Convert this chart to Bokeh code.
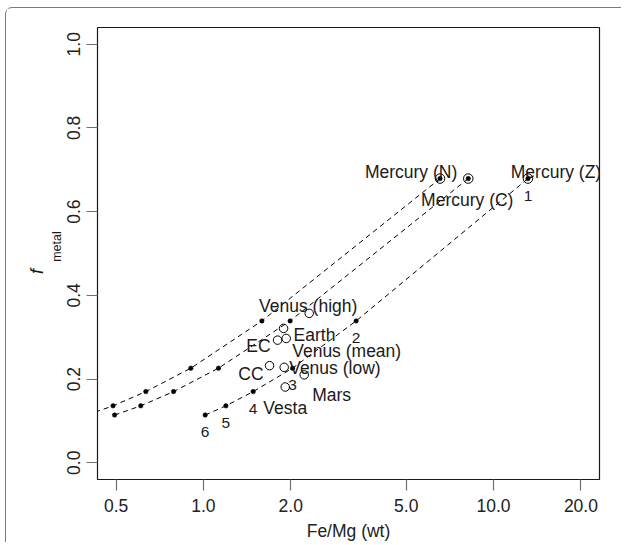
import math
from bokeh.plotting import figure
from bokeh.models import Range1d, FixedTicker, PrintfTickFormatter, LinearAxis
from bokeh.embed import file_html
from bokeh.resources import INLINE
from bokeh.core.properties import value

FONT = "Liberation Sans"

# ---- data ----
f_metal_levels = [0.114, 0.136, 0.170, 0.226, 0.339, 0.679]
curve_top_fe_mg = [0.396, 0.488, 0.633, 0.905, 1.59, 6.54]
curve_mid_fe_mg = [0.494, 0.608, 0.789, 1.127, 1.99, 8.18]
curve_low_fe_mg = [1.014, 1.195, 1.484, 2.029, 3.36, 13.14]
curve_low_numbers = ["6", "5", "4", "3", "2", "1"]
mercury_names = ["Mercury (N)", "Mercury (C)", "Mercury (Z)"]

body_names = ["Venus (high)", "Earth", "EC", "Venus (mean)", "CC",
              "Venus (low)", "Mars", "Vesta"]
body_fe_mg = [2.315, 1.889, 1.801, 1.929, 1.69, 1.898, 2.225, 1.914]
body_f_metal = [0.357, 0.321, 0.293, 0.297, 0.232, 0.228, 0.210, 0.181]

x_ticks = [0.5, 1, 2, 5, 10, 20]
y_ticks = [0.0, 0.2, 0.4, 0.6, 0.8, 1.0]
x_lim = (0.5, 20)
y_lim = (0.0, 1.0)

# ---- label placement styles (screen px: dx right, dy down to baseline) ----
label_style = {
    "Mercury (N)": ("center", -29, -7),
    "Mercury (C)": ("center", -1, 21),
    "Mercury (Z)": ("center", 28, -7),
    "Venus (high)": ("center", -1, -7),
    "Earth": ("left", 10, 7),
    "EC": ("right", -7, 6),
    "Venus (mean)": ("left", 6, 13),
    "CC": ("right", -6, 8),
    "Venus (low)": ("left", 5, 1),
    "Mars": ("left", 8, 20),
    "Vesta": ("center", 0, 21),
}

# R-style 4% axis extension
lx0, lx1 = math.log10(x_lim[0]), math.log10(x_lim[1])
ext = 0.04 * (lx1 - lx0)
x_lo, x_hi = 10 ** (lx0 - ext), 10 ** (lx1 + ext)
ey = 0.04 * (y_lim[1] - y_lim[0])
y_lo, y_hi = y_lim[0] - ey, y_lim[1] + ey

FRAME_H = 455
p = figure(width=616, height=535, x_axis_type="log",
           x_range=Range1d(x_lo, x_hi), y_range=Range1d(y_lo, y_hi),
           output_backend="svg", toolbar_location=None,
           min_border_left=91, min_border_right=23,
           min_border_top=19, min_border_bottom=61,
           styles={"border-top": "1px solid #7a7a7a",
                   "border-left": "1px solid #7a7a7a",
                   "border-top-left-radius": "7px",
                   "margin-left": "5px", "margin-top": "7px"})
p.xgrid.visible = False
p.ygrid.visible = False
p.outline_line_color = "#1a1a1a"
p.outline_line_width = 1.2
p.background_fill_color = "white"
p.border_fill_color = "white"

for ax in (p.xaxis[0], p.yaxis[0]):
    ax.axis_line_color = None
    ax.major_tick_out = 11
    ax.major_tick_in = 0
    ax.minor_tick_out = 0
    ax.minor_tick_in = 0
    ax.major_tick_line_color = "#707070"
    ax.major_tick_line_width = 1.2
    ax.major_label_text_font = FONT
    ax.major_label_text_font_size = "17.5px"
    ax.major_label_text_color = "#222222"
    ax.formatter = PrintfTickFormatter(format="%.1f")

p.xaxis[0].ticker = FixedTicker(ticks=x_ticks, minor_ticks=[])
p.yaxis[0].ticker = FixedTicker(ticks=y_ticks, minor_ticks=[])
p.xaxis[0].major_label_standoff = 8
p.yaxis[0].major_label_standoff = 6
p.yaxis[0].major_label_orientation = "vertical"

p.xaxis[0].axis_label = "Fe/Mg (wt)"
p.xaxis[0].axis_label_text_font = FONT
p.xaxis[0].axis_label_text_font_size = "17.5px"
p.xaxis[0].axis_label_text_font_style = "normal"
p.xaxis[0].axis_label_text_color = "#222222"
p.xaxis[0].axis_label_standoff = 6

# y-axis title: italic "f" with subscript "metal", built from two tickless
# side axes whose single label sits where each part of the title belongs
y_mid = (y_lo + y_hi) / 2
px_to_y = (y_hi - y_lo) / FRAME_H


def title_axis(txt, shift_px, size, style, standoff):
    pos = y_mid + shift_px * px_to_y
    ax = LinearAxis(ticker=FixedTicker(ticks=[pos], minor_ticks=[]),
                    major_label_overrides={pos: txt},
                    axis_line_color=None, major_tick_line_color=None,
                    major_tick_out=0, major_tick_in=0,
                    minor_tick_out=0, minor_tick_in=0,
                    major_label_standoff=standoff,
                    major_label_orientation="vertical",
                    major_label_text_font=FONT,
                    major_label_text_font_size=size,
                    major_label_text_font_style=style,
                    major_label_text_color="#1a1a1a")
    p.add_layout(ax, "left")


title_axis("metal", 7, "12.5px", "normal", 0)
title_axis("f", -18, "18px", "italic", 0)

# dashed model curves with their points
for xs in (curve_top_fe_mg, curve_mid_fe_mg, curve_low_fe_mg):
    p.line(xs, f_metal_levels, line_color="black", line_width=1,
           line_dash="5 4")
    p.scatter(xs, f_metal_levels, size=4.5, marker="circle",
              fill_color="black", line_color="black", line_width=0.5)

# Mercury points (ring around the end of each curve)
mercury_x = [curve_top_fe_mg[-1], curve_mid_fe_mg[-1], curve_low_fe_mg[-1]]
mercury_y = [f_metal_levels[-1]] * 3
p.scatter(mercury_x, mercury_y, size=9.5, marker="circle",
          fill_color=None, line_color="black", line_width=1)

# planets / meteorite classes
p.scatter(body_fe_mg, body_f_metal, size=8.5, marker="circle",
          fill_color="white", fill_alpha=0, line_color="black", line_width=1)


def put_label(x, y, txt, align, dx, dy, size="17.5px"):
    p.text([x], [y], text=[txt], text_font=value(FONT),
           text_font_size=size, text_align=align,
           text_baseline="alphabetic", x_offset=dx, y_offset=dy,
           text_color="#1a1a1a")


for name, x, y in zip(mercury_names, mercury_x, mercury_y):
    a, dx, dy = label_style[name]
    put_label(x, y, name, a, dx, dy)

for name, x, y in zip(body_names, body_fe_mg, body_f_metal):
    a, dx, dy = label_style[name]
    put_label(x, y, name, a, dx, dy)

for num, x, y in zip(curve_low_numbers, curve_low_fe_mg, f_metal_levels):
    put_label(x, y, num, "center", 0, 17, size="15.5px")

open("out.html", "w").write(file_html(p, INLINE))
